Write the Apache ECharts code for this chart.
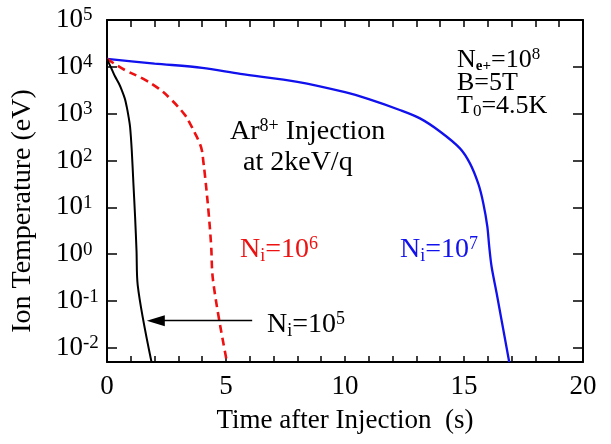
<!DOCTYPE html>
<html><head><meta charset="utf-8">
<script src="https://cdn.jsdelivr.net/npm/echarts@6/dist/echarts.min.js"></script>
<style>html,body{margin:0;padding:0;background:#fff}#c{width:611px;height:444px}</style>
</head><body><div id="c"></div>
<script>
// Time (s) and ion temperature (eV)
const blackT = [0, 0.05, 0.2, 0.34, 0.5, 0.62, 0.75, 0.83, 0.9, 0.97, 1.04, 1.11, 1.18, 1.24, 1.29, 1.87];
const blackV = [14800, 12900, 8900, 6200, 4400, 3200, 2100, 1400, 900, 520, 166, 32, 6.3, 1.2, 0.22, 0.005];
const redT = [0, 0.76, 1.46, 2.16, 2.72, 3.28, 3.5, 3.70, 3.85, 3.98, 4.05, 4.12, 4.26, 4.37, 4.47, 5.04];
const redV = [14800, 8500, 5750, 3470, 1950, 930, 600, 380, 263, 170, 93, 46, 8.7, 1.7, 0.24, 0.005];
const blueT = [0, 2, 4, 5.6, 8, 10, 11, 12.3, 13.15, 13.99, 14.83, 15.25, 15.6, 15.81, 15.98, 16.06, 16.16, 16.37, 16.9];
const blueV = [14800, 11750, 9550, 7080, 4790, 2880, 2040, 1200, 794, 417, 182, 87, 32, 12.3, 3.9, 1.45, 0.54, 0.148, 0.005];
const xRange = [0, 20];
const yRange = [0.005, 1e5];
const arrowFrom = [6.1, 0.038];
const arrowTo = [2.05, 0.038];

const FONT = "'Liberation Serif', 'Times New Roman', serif";
const pairs = (t, v) => t.map((x, i) => [x, v[i]]);

function richSet(size, color) {
  return {
    m: {fontFamily: FONT, fontSize: size, lineHeight: size + 2, color: color},
    p: {fontFamily: FONT, fontSize: Math.round(size * 0.66), lineHeight: 14, verticalAlign: 'top', color: color},
    P: {fontFamily: FONT, fontSize: Math.round(size * 0.66), lineHeight: 6, verticalAlign: 'top', color: color},
    b: {fontFamily: FONT, fontSize: Math.round(size * 0.66), lineHeight: 13, verticalAlign: 'bottom', color: color},
    e: {fontFamily: FONT, fontSize: Math.round(size * 0.58), fontWeight: 'bold', lineHeight: 10, verticalAlign: 'bottom', color: color}
  };
}
function txt(x, y, text, size, color) {
  return {type: 'text', x: x, y: y, silent: true,
    style: {text: text, rich: richSet(size, color), fill: color, align: 'left', verticalAlign: 'middle',
      fontFamily: FONT, fontSize: size}};
}

const chart = echarts.init(document.getElementById('c'), null, {renderer: 'canvas'});
const axisLineStyle = {color: '#000', width: 2};
chart.setOption({
  animation: false,
  backgroundColor: '#fff',
  grid: {left: 107, top: 20, right: 28, bottom: 82, containLabel: false, outerBoundsMode: 'none'},
  xAxis: [{
    type: 'value', min: xRange[0], max: xRange[1], interval: 1,
    axisLine: {show: true, onZero: false, lineStyle: axisLineStyle},
    axisTick: {show: true, inside: true, length: 6, lineStyle: {color: '#000', width: 1.5}},
    splitLine: {show: false},
    axisLabel: {show: true, margin: 11, color: '#000', fontFamily: FONT, fontSize: 27,
      formatter: v => (v % 5 === 0 ? String(v) : '')},
    name: 'Time after Injection  (s)', nameLocation: 'middle', nameGap: 45,
    nameTextStyle: {color: '#000', fontFamily: FONT, fontSize: 27}
  }, {
    type: 'value', position: 'top', min: xRange[0], max: xRange[1], interval: 1,
    axisLine: {show: true, onZero: false, lineStyle: axisLineStyle},
    axisTick: {show: true, inside: true, length: 7, lineStyle: {color: '#000', width: 1.5}},
    splitLine: {show: false}, axisLabel: {show: false}
  }],
  yAxis: [{
    type: 'log', logBase: 10, min: yRange[0], max: yRange[1],
    axisLine: {show: true, onZero: false, lineStyle: axisLineStyle},
    axisTick: {show: true, inside: true, length: 10, lineStyle: {color: '#000', width: 1.5}},
    minorTick: {show: false},
    splitLine: {show: false},
    axisLabel: {show: true, align: 'left', margin: 51, color: '#000',
      formatter: v => {
        const l = Math.log10(v); const r = Math.round(l);
        if (Math.abs(l - r) > 1e-6) return '';
        return '{m|10}{p|' + r + '}';
      },
      rich: {
        m: {fontFamily: FONT, fontSize: 27, lineHeight: 28, color: '#000'},
        p: {fontFamily: FONT, fontSize: 19, lineHeight: 18, verticalAlign: 'top', color: '#000'}
      }
    },
    name: 'Ion Temperature (eV)', nameLocation: 'middle', nameGap: 70, nameRotate: 90,
    nameTextStyle: {color: '#000', fontFamily: FONT, fontSize: 28, padding: [0, 40, 0, 0]}
  }, {
    type: 'log', logBase: 10, min: yRange[0], max: yRange[1], position: 'right',
    axisLine: {show: true, onZero: false, lineStyle: axisLineStyle},
    axisTick: {show: true, inside: true, length: 10, lineStyle: {color: '#000', width: 1.5}},
    minorTick: {show: false},
    splitLine: {show: false}, axisLabel: {show: false}
  }],
  series: [{
    type: 'line', name: 'Ni=1e7', data: pairs(blueT, blueV), showSymbol: false, smooth: 0.3,
    lineStyle: {color: '#1111ee', width: 2.3}, clip: true
  }, {
    type: 'line', name: 'Ni=1e6', data: pairs(redT, redV), showSymbol: false, smooth: 0.4,
    lineStyle: {color: '#ee1111', width: 2.6, type: [8, 5]}, clip: true
  }, {
    type: 'line', name: 'Ni=1e5', data: pairs(blackT, blackV), showSymbol: false, smooth: 0.3,
    lineStyle: {color: '#000', width: 2}, clip: true,
    markLine: {silent: true, symbol: ['none', 'triangle'], symbolSize: [11, 18],
      lineStyle: {color: '#000', width: 1.3, type: 'solid'}, label: {show: false},
      emphasis: {disabled: true},
      data: [[{coord: arrowFrom}, {coord: arrowTo}]]}
  }],
  graphic: [
    txt(457, 60, '{m|N}{e|e+}{m|=10}{p|8}', 26, '#000'),
    txt(457, 83, '{m|B=5T}', 26, '#000'),
    txt(457, 106, '{m|T}{b|0}{m|=4.5K}', 26, '#000'),
    txt(230, 132, '{m|Ar}{P|8+}{m| Injection}', 28, '#000'),
    txt(243, 163, '{m|at 2keV/q}', 28, '#000'),
    txt(240, 250, '{m|N}{b|i}{m|=10}{p|6}', 28, '#ee1111'),
    txt(400, 250, '{m|N}{b|i}{m|=10}{p|7}', 28, '#1111ee'),
    txt(267, 325, '{m|N}{b|i}{m|=10}{p|5}', 28, '#000')
  ]
});
</script>
</body></html>
